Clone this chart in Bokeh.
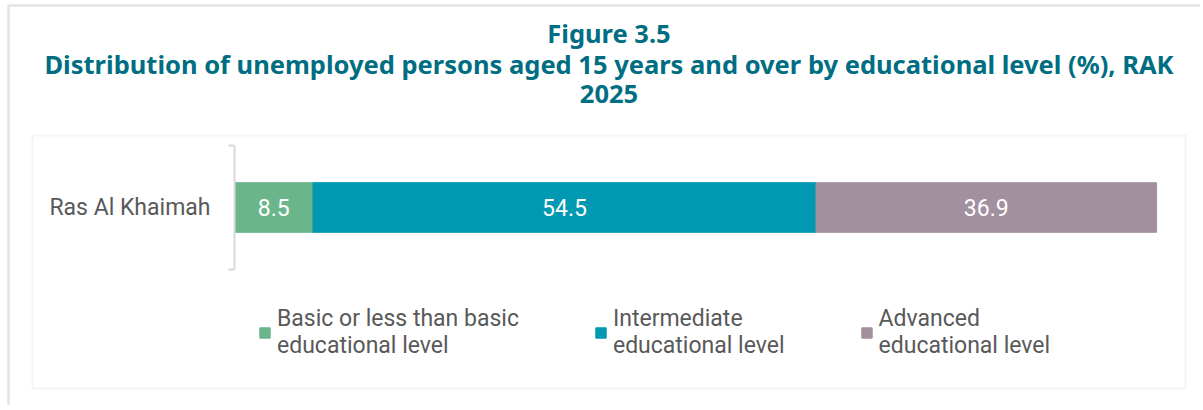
from bokeh.plotting import figure
from bokeh.models import (ColumnDataSource, Range1d, LinearAxis, FixedTicker,
                          Legend, LegendItem, Label, BoxAnnotation)
from bokeh.embed import file_html
from bokeh.resources import INLINE
from bokeh.core.properties import value

# ---- data ----
regions = ["Ras Al Khaimah"]
level_keys = ["basic", "intermediate", "advanced"]
level_labels = ["Basic or less than basic\neducational level",
                "Intermediate\neducational level",
                "Advanced\neducational level"]
shares = [8.5, 54.5, 36.9]
colors = ["#6BB58B", "#0099B1", "#A2909F"]
title_lines = ["Figure 3.5",
               "Distribution of unemployed persons aged 15 years and over by educational level (%), RAK",
               "2025"]

TEXT = "#595959"
FONT = "Roboto"
FSIZE = "23px"

# ---- layout (pixels on the canvas) ----
W, H = 1200, 405
BAR_X0, BAR_X100 = 234, 1157          # where 0 % and 100 % fall
ROW_TOP, ROW_BOTTOM = 145, 269        # extent of the category band
ppx = (BAR_X100 - BAR_X0) / 100.0
ppy = float(ROW_BOTTOM - ROW_TOP)
x_range = Range1d(-BAR_X0 / ppx, (W - BAR_X0) / ppx)
y_range = Range1d(-0.5 - (H - ROW_BOTTOM) / ppy, 0.5 + ROW_TOP / ppy)

p = figure(width=W, height=H, output_backend="svg", toolbar_location=None,
           x_range=x_range, y_range=y_range,
           x_axis_location=None, y_axis_location=None,
           min_border_left=0, min_border_right=0,
           min_border_top=0, min_border_bottom=0)
p.title.visible = False
p.outline_line_color = None
p.grid.visible = False
p.background_fill_color = "white"
p.border_fill_color = "white"

# frames of the chart
outer = BoxAnnotation(left=8, right=W + 20, top=5, bottom=H + 20,
                      left_units="canvas", right_units="canvas",
                      top_units="canvas", bottom_units="canvas",
                      fill_color=None, fill_alpha=0,
                      line_color="#A6A6A6", line_width=2.5, level="underlay")
inner = BoxAnnotation(left=32, right=1185, top=135, bottom=388,
                      left_units="canvas", right_units="canvas",
                      top_units="canvas", bottom_units="canvas",
                      fill_color=None, fill_alpha=0,
                      line_color="#D9D9D9", line_width=2, level="underlay")
p.add_layout(outer)
p.add_layout(inner)

# stacked bar
pos = list(range(len(regions)))
data = {"pos": pos}
for k, v in zip(level_keys, shares):
    data[k] = [v]
src = ColumnDataSource(data)
renderers = p.hbar_stack(level_keys, y="pos", height=0.4, color=colors, source=src)

# value labels
mids, left = [], 0.0
for v in shares:
    mids.append(left + v / 2)
    left += v
lab_src = ColumnDataSource(dict(x=mids, y=pos * len(shares),
                                t=[f"{v:.1f}" for v in shares]))
p.text(x="x", y="y", text="t", source=lab_src, text_color="white",
       text_align="center", text_baseline="middle",
       text_font=value(FONT), text_font_size=FSIZE)

# category axis drawn as a bracket
yax = LinearAxis(ticker=FixedTicker(ticks=pos, minor_ticks=[-0.5, 0.5]),
                 major_label_overrides={i: r for i, r in zip(pos, regions)},
                 bounds=(-0.5, 0.5), fixed_location=0)
yax.axis_line_color = "#D9D9D9"
yax.axis_line_width = 2
yax.major_tick_out = 0
yax.major_tick_in = 0
yax.minor_tick_out = 6
yax.minor_tick_in = 0
yax.minor_tick_line_color = "#D9D9D9"
yax.minor_tick_line_width = 2
yax.major_label_standoff = 18
yax.major_label_text_font = FONT
yax.major_label_text_font_size = FSIZE
yax.major_label_text_color = TEXT
p.add_layout(yax, "left")

# legend
items = [LegendItem(label=lab, renderers=[r]) for lab, r in zip(level_labels, renderers)]
legend = Legend(items=items, orientation="horizontal", location=(258, H - 359),
                padding=0, margin=0, spacing=75, glyph_width=13, glyph_height=13,
                label_standoff=6, border_line_color=None, background_fill_alpha=0,
                label_text_font=FONT, label_text_font_size=FSIZE,
                label_text_color=TEXT, label_text_line_height=1.27)
p.add_layout(legend)

# title
for line, y in zip(title_lines, [32, 63, 93]):
    p.add_layout(Label(x=608.5, y=y, x_units="canvas", y_units="canvas", text=line,
                       text_align="center", text_baseline="alphabetic",
                       text_font="Noto Sans", text_font_style="bold",
                       text_font_size="25.5px", text_color="#006E82"))

open("out.html", "w").write(file_html(p, INLINE))
